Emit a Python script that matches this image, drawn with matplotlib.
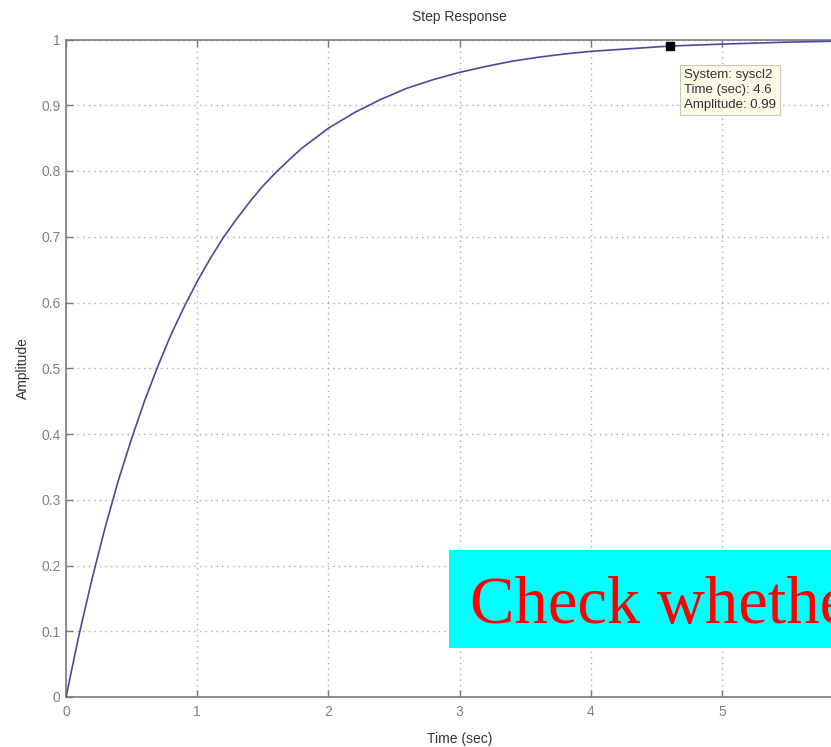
import matplotlib
matplotlib.use("Agg")
import matplotlib.pyplot as plt
from matplotlib.patches import Rectangle

# Step response samples (time in sec, amplitude)
time_s = [0.0, 0.1, 0.2, 0.3, 0.4, 0.5, 0.6, 0.7, 0.8, 0.9, 1.0,
          1.1, 1.2, 1.3, 1.4, 1.5, 1.6, 1.7, 1.8, 1.9, 2.0,
          2.2, 2.4, 2.6, 2.8, 3.0, 3.2, 3.4, 3.6, 3.8, 4.0,
          4.3, 4.6, 5.0, 5.5, 6.0]
amplitude = [0.0, 0.095, 0.181, 0.259, 0.330, 0.393, 0.451, 0.503, 0.551, 0.593, 0.632,
             0.667, 0.699, 0.727, 0.753, 0.777, 0.798, 0.817, 0.835, 0.850, 0.865,
             0.889, 0.909, 0.926, 0.939, 0.950, 0.959, 0.967, 0.973, 0.978, 0.982,
             0.986, 0.990, 0.993, 0.996, 0.998]

# Data tip
tip_time = 4.6
tip_amp = 0.99
tip_lines = ["System: syscl2", "Time (sec): 4.6", "Amplitude: 0.99"]

x_ticks = [0, 1, 2, 3, 4, 5]
x_tick_labels = ["0", "1", "2", "3", "4", "5"]
y_ticks = [0, 0.1, 0.2, 0.3, 0.4, 0.5, 0.6, 0.7, 0.8, 0.9, 1]
y_tick_labels = ["0", "0.1", "0.2", "0.3", "0.4", "0.5", "0.6", "0.7", "0.8", "0.9", "1"]

banner_text = "Check whether"

W, H = 831, 747
fig = plt.figure(figsize=(W / 100, H / 100), dpi=100)
fig.patch.set_facecolor("white")

# axes box in pixel terms: x0=66, t-scale 131.2 px/s, y from 697 (0) to 39.5 (1)
left, right_px = 66, 66 + 6 * 131.2
top_px, bottom_px = 39.5, 697
ax = fig.add_axes([left / W, (H - bottom_px) / H, (right_px - left) / W, (bottom_px - top_px) / H])
ax.set_xlim(0, 6)
ax.set_ylim(0, 1)

font = "Liberation Sans"
grey = "#7a7a7a"

ax.plot(time_s, amplitude, color="#4a4a9c", lw=1.2, zorder=3)

ax.set_xticks(x_ticks)
ax.set_xticklabels(x_tick_labels, fontsize=10, color="#808080", family=font)
ax.set_yticks(y_ticks)
ax.set_yticklabels(y_tick_labels, fontsize=10, color="#808080", family=font)
ax.tick_params(direction="in", length=5, width=1, color=grey, top=True, right=True)
ax.tick_params(axis="y", pad=4)
ax.tick_params(axis="x", pad=6)
for s in ax.spines.values():
    s.set_color(grey)
    s.set_linewidth(1.2)

ax.grid(True, linestyle=(0, (1, 3)), color="#a8a8a8", linewidth=1.0)
ax.set_axisbelow(True)

ax.set_title("Step Response", fontsize=10, color="#333333", family=font, pad=13)
ax.set_xlabel("Time (sec)", fontsize=10, color="#333333", family=font, labelpad=9)
ax.set_ylabel("Amplitude", fontsize=10, color="#333333", family=font, labelpad=8)

# data tip marker and label
ax.plot([tip_time], [tip_amp], marker="s", ms=6, color="black", zorder=5, clip_on=False)
ax.text(tip_time + 0.11, tip_amp - 0.035, "\n".join(tip_lines), fontsize=9.5, family=font,
        color="#333333", va="top", ha="left", linespacing=1.35, zorder=6,
        bbox=dict(boxstyle="square,pad=0.3", facecolor="#fbfbe8", edgecolor="#c8c8b8", lw=0.8))

# banner
fig.patches.append(Rectangle((449 / W, (H - 648) / H), (W - 449 + 20) / W, 98 / H,
                             transform=fig.transFigure, facecolor="#00ffff",
                             edgecolor="none", zorder=10))
fig.text(470 / W, (H - 623) / H, banner_text, fontsize=48, color="red",
         family="Liberation Serif", ha="left", va="baseline", zorder=11)

fig.savefig("out.png", dpi=100, facecolor="white")
